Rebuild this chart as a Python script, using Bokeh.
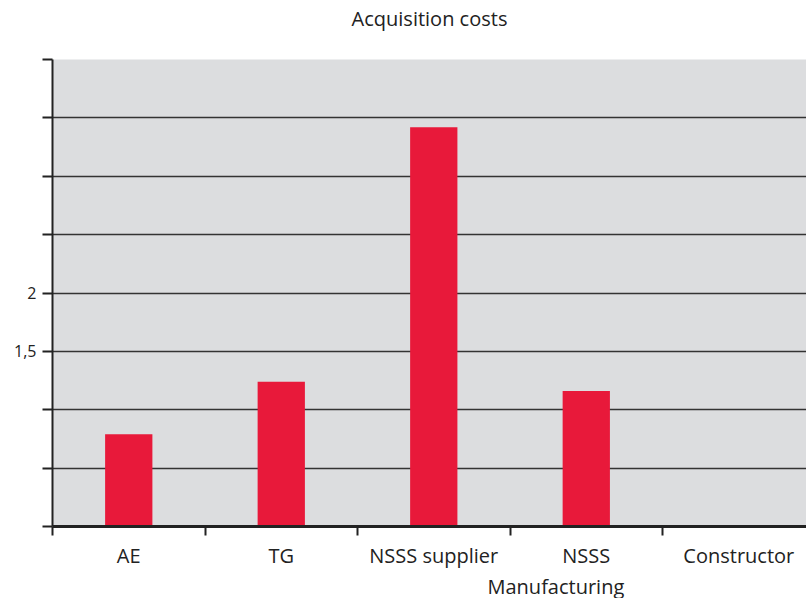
from bokeh.plotting import figure
from bokeh.models import FixedTicker, Range1d, Title, ColumnDataSource
from bokeh.embed import file_html
from bokeh.resources import INLINE

categories = ["AE", "TG", "NSSS supplier", "NSSS", "Constructor"]
values = [0.79, 1.24, 3.42, 1.16, 0.0]
y_ticks = [0, 0.5, 1, 1.5, 2, 2.5, 3, 3.5, 4]
y_tick_labels = {0: "", 0.5: "", 1: "", 1.5: "1,5", 2: "2", 2.5: "", 3: "", 3.5: "", 4: ""}
title_text = "Acquisition costs"
x_label_text = "Manufacturing"

FONT = "Open Sans"
centers = [i + 0.5 for i in range(len(categories))]
src = ColumnDataSource(dict(x=centers, top=values))

p = figure(width=806, height=598, output_backend="svg", toolbar_location=None,
           x_range=Range1d(0, 4.944), y_range=Range1d(0, 4),
           min_border_left=52, min_border_right=0, min_border_top=59, min_border_bottom=10)
p.title = None

# spacer between frame and title (closest to the frame)
spacer = Title(text="\u00a0", text_font_size="1px", standoff=23)
p.add_layout(spacer, "above")
main_title = Title(text=title_text, align="center", vertical_align="top", text_font=FONT,
                   text_font_size="20px", text_font_style="normal", text_color="#222222",
                   standoff=0, offset=0)
p.add_layout(main_title, "above")

p.background_fill_color = "#DCDDDF"
p.border_fill_color = "white"
p.outline_line_color = None

p.vbar(x="x", top="top", width=0.31, bottom=0, source=src, color="#E8193A", line_color=None)

# x axis
xa = p.xaxis[0]
xa.ticker = FixedTicker(ticks=centers, minor_ticks=[0, 1, 2, 3, 4])
xa.major_label_overrides = {c: lab for c, lab in zip(centers, categories)}
xa.major_tick_out = 0
xa.major_tick_in = 0
xa.minor_tick_out = 9
xa.minor_tick_in = 0
xa.minor_tick_line_color = "#222222"
xa.minor_tick_line_width = 2
xa.axis_line_color = "#222222"
xa.axis_line_width = 3
xa.major_label_text_font = FONT
xa.major_label_text_font_size = "20px"
xa.major_label_text_color = "#222222"
xa.major_label_standoff = 6

# y axis
ya = p.yaxis[0]
ya.ticker = FixedTicker(ticks=y_ticks, minor_ticks=[])
ya.major_label_overrides = y_tick_labels
ya.major_tick_out = 10
ya.major_tick_in = 0
ya.major_tick_line_color = "#222222"
ya.major_tick_line_width = 2
ya.axis_line_color = "#222222"
ya.axis_line_width = 2
ya.major_label_text_font = FONT
ya.major_label_text_font_size = "16px"
ya.major_label_text_color = "#222222"
ya.major_label_standoff = 6

p.xgrid.grid_line_color = None
p.ygrid.ticker = FixedTicker(ticks=y_ticks)
p.ygrid.grid_line_color = "#333333"
p.ygrid.grid_line_width = 1.5

xt = Title(text=x_label_text, align="left", offset=435, text_font=FONT,
           text_font_size="20px", text_font_style="normal", text_color="#222222",
           standoff=-2)
p.add_layout(xt, "below")

open("out.html", "w").write(file_html(p, INLINE))
